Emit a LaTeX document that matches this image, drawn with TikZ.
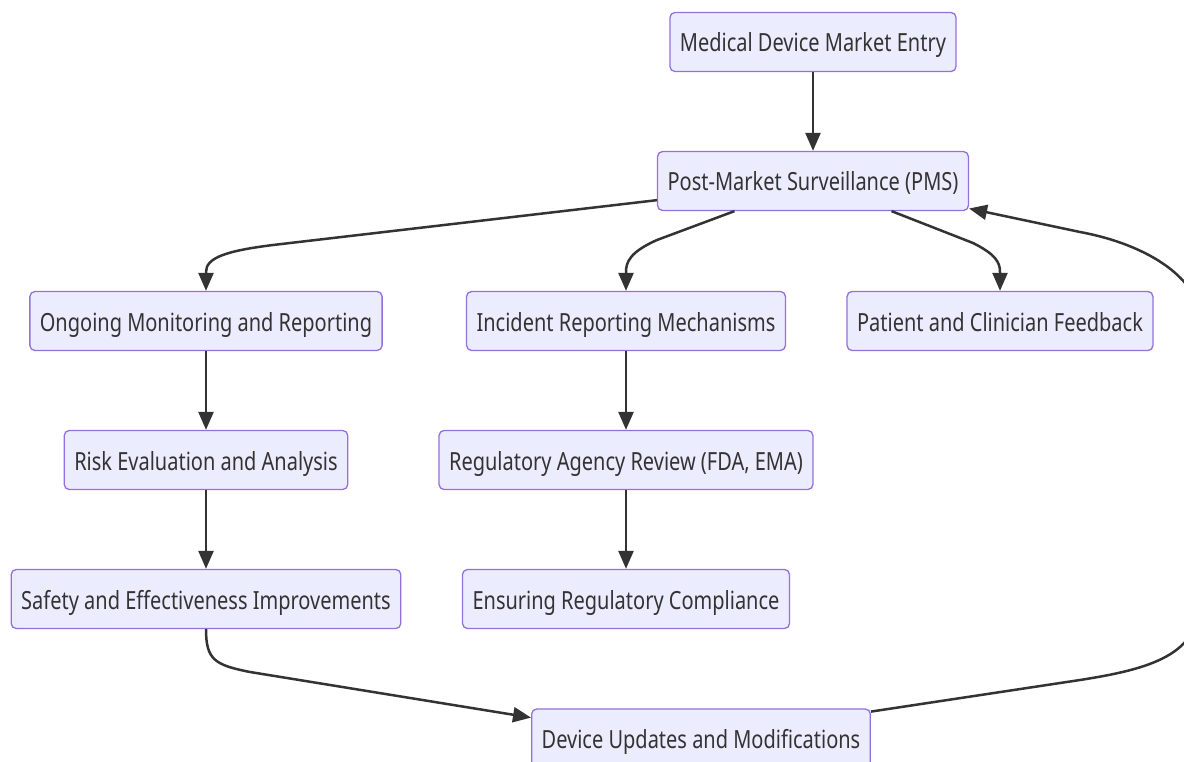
\documentclass[tikz,border=0pt]{standalone}
\usepackage{fontspec}
\setmainfont{Noto Sans}[FakeStretch=0.8]
\usetikzlibrary{arrows.meta}
\definecolor{boxfill}{HTML}{ECECFF}
\definecolor{boxline}{HTML}{9370DB}
\definecolor{ink}{HTML}{333333}
\begin{document}
\begin{tikzpicture}[x=1pt,y=-1pt,
  stage/.style={draw=boxline,fill=boxfill,line width=1.3pt,rounded corners=5pt,
    minimum height=59pt,inner xsep=10pt,text height=22pt,text depth=2pt,
    text=ink,font=\fontsize{25}{30}\selectfont},
  flow/.style={draw=ink,line width=2.5pt,-{Triangle[length=18pt,width=15pt]}}]
\useasboundingbox (0,0) rectangle (1184,762);
\node[stage] (entry) at (813,42) {Medical Device Market Entry};
\node[stage] (pms) at (813,181) {Post-Market Surveillance (PMS)};
\node[stage] (ongoing) at (206,321) {Ongoing Monitoring and Reporting};
\node[stage] (incident) at (626,321) {Incident Reporting Mechanisms};
\node[stage] (patient) at (1000,321) {Patient and Clinician Feedback};
\node[stage] (risk) at (206,460) {Risk Evaluation and Analysis};
\node[stage] (agency) at (626,460) {Regulatory Agency Review (FDA, EMA)};
\node[stage] (safety) at (206,599) {Safety and Effectiveness Improvements};
\node[stage] (comply) at (626,599) {Ensuring Regulatory Compliance};
\node[stage] (device) at (701,738.5) {Device Updates and Modifications};

\draw[flow] (entry) -- (pms);
\draw[flow] (pms.187) -- (273,245) .. controls (225,251) and (206,258) .. (206,272) -- (ongoing.north);
\draw[flow] (pms.201) -- (657,240) .. controls (630,252) and (626,262) .. (626,272) -- (incident.north);
\draw[flow] (pms.-21) -- (973,243) .. controls (995,254) and (1000,262) .. (1000,272) -- (patient.north);
\draw[flow] (ongoing) -- (risk);
\draw[flow] (risk) -- (safety);
\draw[flow] (incident) -- (agency);
\draw[flow] (agency) -- (comply);
\draw[flow] (safety.south) .. controls (206,660) and (215,665) .. (250,672) -- (device.173);
\draw[flow] (device.9) -- (1080,680) .. controls (1150,669) and (1200,655) .. (1200,600)
  -- (1200,320) .. controls (1200,280) and (1150,245) .. (1080,232) -- (pms.-10);
\end{tikzpicture}
\end{document}
